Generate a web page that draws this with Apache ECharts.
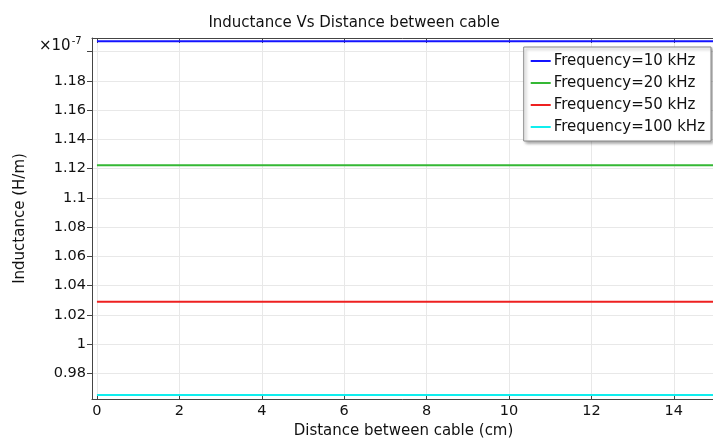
<!DOCTYPE html>
<html>
<head>
<meta charset="utf-8">
<script src="https://cdn.jsdelivr.net/npm/echarts@6/dist/echarts.min.js"></script>
<style>
html, body { margin: 0; padding: 0; background: #fff; }
#chart { width: 713px; height: 439px; }
</style>
</head>
<body>
<div id="chart"></div>
<script>
// distances (cm) where the sweep was evaluated
var distances = [0, 2, 4, 6, 8, 10, 12, 14, 15];
// inductance, in units of 1e-7 H/m
var ind10k = [1.2071, 1.2071, 1.2071, 1.2071, 1.2071, 1.2071, 1.2071, 1.2071, 1.2071];
var ind20k = [1.1224, 1.1224, 1.1224, 1.1224, 1.1224, 1.1224, 1.1224, 1.1224, 1.1224];
var ind50k = [1.0290, 1.0290, 1.0290, 1.0290, 1.0290, 1.0290, 1.0290, 1.0290, 1.0290];
var ind100k = [0.9652, 0.9652, 0.9652, 0.9652, 0.9652, 0.9652, 0.9652, 0.9652, 0.9652];
var seriesNames = ["Frequency=10 kHz", "Frequency=20 kHz", "Frequency=50 kHz", "Frequency=100 kHz"];
var xTicks = [0, 2, 4, 6, 8, 10, 12, 14];
var yTicks = [0.98, 1, 1.02, 1.04, 1.06, 1.08, 1.1, 1.12, 1.14, 1.16, 1.18, 1.2];
var yLabels = [0.98, 1, 1.02, 1.04, 1.06, 1.08, 1.1, 1.12, 1.14, 1.16, 1.18];

var colors = ["#1414ff", "#35b835", "#ee2020", "#10eeee"];
var font = "DejaVu Sans";

function pairs(ys) {
	return distances.map(function(x, i) {
		return [x, ys[i]];
	});
}

var chart = echarts.init(document.getElementById("chart"));
var allValues = [ind10k, ind20k, ind50k, ind100k];

var option = {
	animation: false,
	textStyle: { fontFamily: font },
	title: {
		text: "Inductance Vs Distance between cable",
		left: 349,
		top: 11,
		textAlign: "center",
		textStyle: { fontFamily: font, fontSize: 15, fontWeight: "normal", color: "#111" }
	},
	grid: { left: 92, top: 38, right: -2, bottom: 40, outerBoundsMode: "none", containLabel: false },
	legend: {
		right: 2,
		top: 47,
		orient: "vertical",
		icon: "rect",
		itemWidth: 20,
		itemHeight: 2,
		itemGap: 4,
		padding: [5, 6, 5, 7],
		backgroundColor: "#fff",
		borderColor: "#888",
		borderWidth: 1,
		shadowColor: "rgba(0,0,0,0.35)",
		shadowBlur: 3,
		shadowOffsetX: 2,
		shadowOffsetY: 2,
		textStyle: { fontFamily: font, fontSize: 15, color: "#111", padding: [0, 0, 0, -2], lineHeight: 18 },
		data: seriesNames
	},
	xAxis: [{
		type: "value",
		min: -0.12,
		max: 15,
		name: "Distance between cable (cm)",
		nameLocation: "middle",
		nameGap: 20,
		nameTextStyle: { fontFamily: font, fontSize: 15, color: "#111" },
		axisLine: { onZero: false, lineStyle: { color: "#444", width: 1 } },
		axisTick: { inside: true, length: 5, customValues: xTicks, lineStyle: { color: "#444" } },
		axisLabel: { customValues: xTicks, fontFamily: font, fontSize: 14.5, color: "#111", margin: 5 },
		splitLine: { show: true, lineStyle: { color: "#e8e8e8" } }
	}, {
		type: "value",
		position: "top",
		min: -0.12,
		max: 15,
		axisLine: { show: true, onZero: false, lineStyle: { color: "#444", width: 1 } },
		axisTick: { show: true, inside: true, length: 5, customValues: xTicks, lineStyle: { color: "#444" } },
		axisLabel: { show: false },
		splitLine: { show: false }
	}],
	yAxis: {
		type: "value",
		min: 0.9624,
		max: 1.2094,
		name: "Inductance (H/m)",
		nameLocation: "middle",
		nameGap: 64,
		nameTextStyle: { fontFamily: font, fontSize: 15, color: "#111" },
		axisLine: { show: true, onZero: false, lineStyle: { color: "#444", width: 1 } },
		axisTick: { show: true, length: 5, customValues: yTicks, lineStyle: { color: "#444" } },
		axisLabel: {
			customValues: yLabels,
			fontFamily: font,
			fontSize: 14.5,
			color: "#111",
			margin: 6,
			formatter: function(v) { return String(Math.round(v * 100) / 100); }
		},
		splitLine: { show: true, lineStyle: { color: "#e8e8e8" } }
	},
	graphic: [{
		type: "text",
		left: 39,
		top: 36,
		style: {
			text: "{m|×10}{s|-7}",
			rich: {
				m: { fontFamily: font, fontSize: 15, fill: "#111", verticalAlign: "bottom" },
				s: { fontFamily: font, fontSize: 10, fill: "#111", verticalAlign: "top", padding: [0, 0, 8, 1] }
			}
		}
	}],
	series: seriesNames.map(function(name, i) {
		return {
			name: name,
			type: "line",
			data: pairs(allValues[i]),
			showSymbol: false,
			symbol: "none",
			color: colors[i],
			lineStyle: { width: 2, color: colors[i] },
			z: 3
		};
	})
};
chart.setOption(option);
</script>
</body>
</html>
